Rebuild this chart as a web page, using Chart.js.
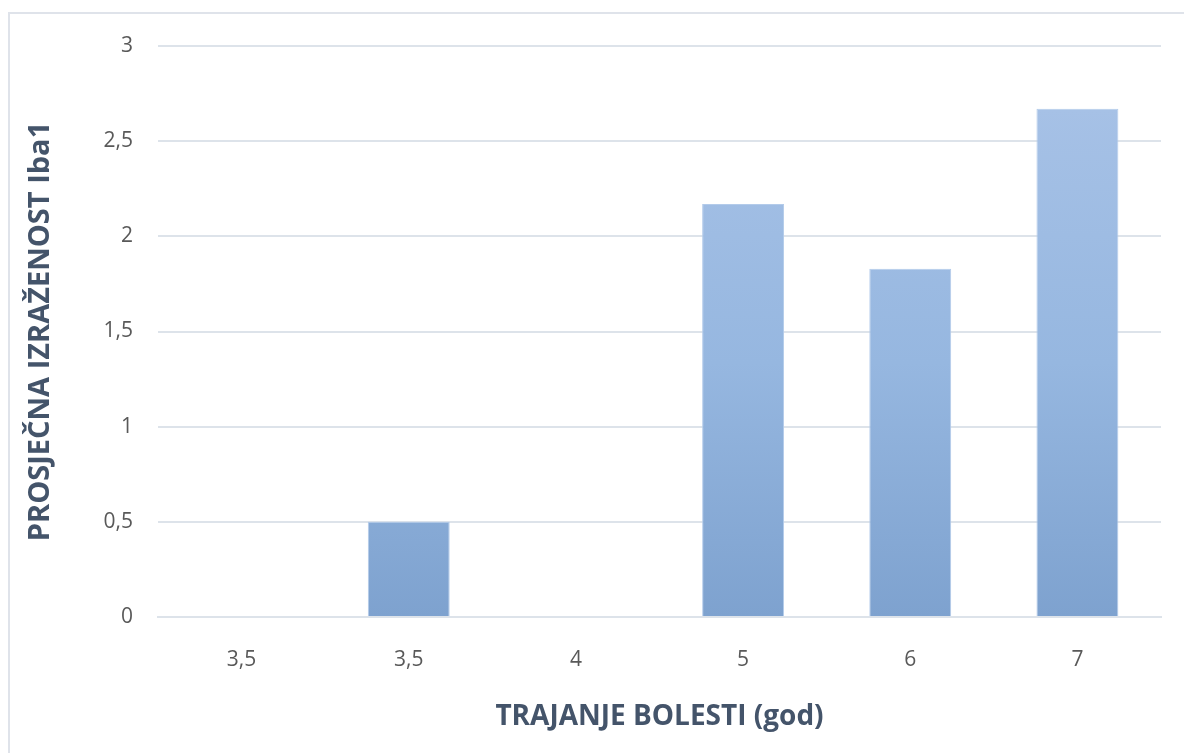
<!DOCTYPE html>
<html>
<head>
<meta charset="utf-8">
<script src="https://cdn.jsdelivr.net/npm/chart.js@4/dist/chart.umd.min.js"></script>
<style>
  html, body { margin: 0; padding: 0; background: #fff; }
  #wrap { position: relative; width: 1184px; height: 753px; }
  #frame { position: absolute; left: 8px; top: 12px; right: 0; bottom: 0; border-left: 2px solid #dfe3ea; border-top: 2px solid #dfe3ea; }
  canvas { position: absolute; left: 0; top: 0; }
</style>
</head>
<body>
<div id="wrap">
  <div id="frame"></div>
  <canvas id="c" width="1184" height="753"></canvas>
</div>
<script>
// data
const categories = ["3,5", "3,5", "4", "5", "6", "7"];
const values = [0, 0.5, 0, 2.17, 1.83, 2.67];
const yTicks = [0, 0.5, 1, 1.5, 2, 2.5, 3];

const tickColor = "#595959";
const titleColor = "#44546a";
const gridColor = "#dde3ea";

// each bar gets its own top-to-bottom gradient
const barGradient = {
  id: "barGradient",
  beforeDatasetsDraw(chart) {
    const ctx = chart.ctx;
    chart.getDatasetMeta(0).data.forEach(el => {
      if (el.base - el.y < 1) return;
      const g = ctx.createLinearGradient(0, el.y, 0, el.base);
      g.addColorStop(0, "#a6c1e6");
      g.addColorStop(0.5, "#96b7e0");
      g.addColorStop(1, "#7ea2cf");
      el.options.backgroundColor = g;
    });
  }
};

new Chart(document.getElementById("c"), {
  type: "bar",
  data: {
    labels: categories,
    datasets: [{
      data: values,
      backgroundColor: "#96b7e0",
      borderColor: "#b3cbea",
      borderWidth: 1,
      categoryPercentage: 1,
      barPercentage: 0.49
    }]
  },
  options: {
    responsive: false,
    animation: false,
    layout: { padding: { left: 10, top: 46, right: 23, bottom: 0 } },
    plugins: { legend: { display: false }, tooltip: { enabled: false } },
    scales: {
      x: {
        grid: { display: false, drawTicks: false },
        border: { display: true, color: gridColor, width: 2 },
        ticks: { color: tickColor, font: { family: "Open Sans", size: 21 }, padding: 30 },
        title: {
          display: true,
          text: "TRAJANJE BOLESTI (god)",
          color: titleColor,
          font: { family: "Open Sans", size: 28, weight: "bold" },
          padding: { top: 0, bottom: 19 }
        },
        afterFit(scale) { scale.height = 136; }
      },
      y: {
        min: 0,
        max: 3,
        afterBuildTicks(scale) { scale.ticks = yTicks.map(v => ({ value: v })); },
        grid: { color: gridColor, lineWidth: 2, drawTicks: false },
        border: { display: false },
        ticks: {
          color: tickColor,
          font: { family: "Open Sans", size: 21 },
          padding: 25,
          callback: v => String(v).replace(".", ",")
        },
        title: {
          display: true,
          text: "PROSJEČNA IZRAŽENOST Iba1",
          color: titleColor,
          font: { family: "Open Sans", size: 29, weight: "bold" },
          padding: { top: 13, bottom: 0 }
        },
        afterFit(scale) { scale.width = 148; }
      }
    }
  },
  plugins: [barGradient]
});
</script>
</body>
</html>
